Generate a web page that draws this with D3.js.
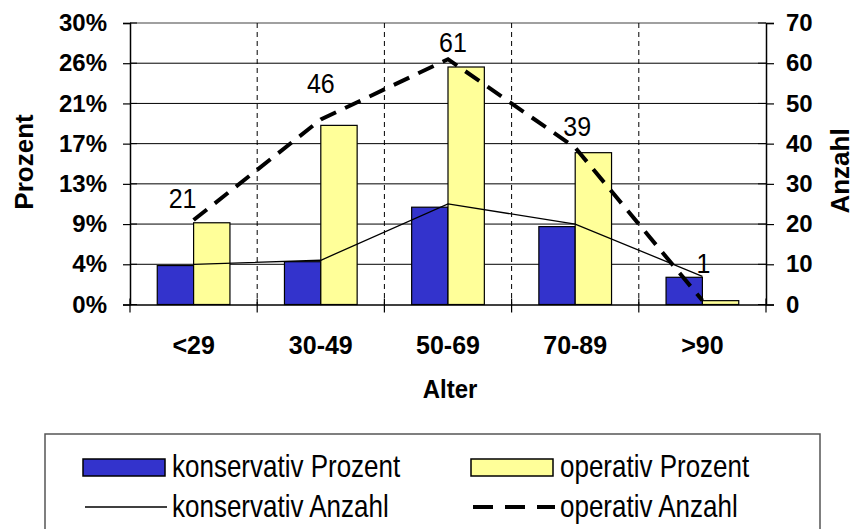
<!DOCTYPE html>
<html>
<head>
<meta charset="utf-8">
<script src="https://cdn.jsdelivr.net/npm/d3@7"></script>
<style>
  html, body { margin: 0; padding: 0; background: #fff; }
  svg { display: block; font-family: "Liberation Sans", Arial, sans-serif; }
</style>
</head>
<body>
<svg id="chart" width="856" height="529"></svg>
<script>
// Age groups and patient figures
const categories = ["<29", "30-49", "50-69", "70-89", ">90"];
const konservativAnzahl = [10, 11, 25, 20, 7];
const operativAnzahl = [21, 46, 61, 39, 1];
const konservativProzent = [4.15, 4.56, 10.37, 8.30, 2.90];
const operativProzent = [8.71, 19.09, 25.31, 16.18, 0.41];

// Axis ticks
const anzahlTicks = [0, 10, 20, 30, 40, 50, 60, 70];
const prozentTickLabels = ["0%", "4%", "9%", "13%", "17%", "21%", "26%", "30%"];

// Nudges for the operativ value labels (dx, dy relative to the point)
const labelNudge = [[-11, -12], [0, -27], [5, -7], [2, -12], [1, -27]];

const svg = d3.select("#chart");
const plot = { left: 130, right: 766, top: 23, bottom: 304.5 };

const x = d3.scaleBand().domain(categories).range([plot.left, plot.right]).paddingInner(0).paddingOuter(0);
const yPct = d3.scaleLinear().domain([0, 30]).range([plot.bottom, plot.top]);
const yCnt = d3.scaleLinear().domain([0, 70]).range([plot.bottom, plot.top]);

const bw = x.bandwidth();
const barW = bw / 3.5; // gap width 150%

// Horizontal gridlines
svg.append("g").selectAll("line").data(anzahlTicks.slice(1, -1)).join("line")
  .attr("x1", plot.left).attr("x2", plot.right)
  .attr("y1", d => yCnt(d)).attr("y2", d => yCnt(d))
  .attr("stroke", "#000").attr("stroke-width", 1);
// top border
svg.append("line").attr("x1", plot.left).attr("x2", plot.right)
  .attr("y1", plot.top).attr("y2", plot.top).attr("stroke", "#808080").attr("stroke-width", 1.5);

// Vertical dashed gridlines between age groups
svg.append("g").selectAll("line").data(categories.slice(1)).join("line")
  .attr("x1", d => x(d)).attr("x2", d => x(d))
  .attr("y1", plot.top).attr("y2", plot.bottom)
  .attr("stroke", "#000").attr("stroke-width", 1).attr("stroke-dasharray", "5,4");

// Bars
const groups = svg.append("g").selectAll("g").data(categories).join("g");
groups.append("rect")
  .attr("x", d => x(d) + bw / 2 - barW)
  .attr("y", (d, i) => yPct(konservativProzent[i]))
  .attr("width", barW)
  .attr("height", (d, i) => plot.bottom - yPct(konservativProzent[i]))
  .attr("fill", "#3333CC").attr("stroke", "#000").attr("stroke-width", 1.2);
groups.append("rect")
  .attr("x", d => x(d) + bw / 2)
  .attr("y", (d, i) => yPct(operativProzent[i]))
  .attr("width", barW)
  .attr("height", (d, i) => plot.bottom - yPct(operativProzent[i]))
  .attr("fill", "#FFFF99").attr("stroke", "#000").attr("stroke-width", 1.2);

// Axes
const leftAxis = d3.axisLeft(yCnt).tickValues(anzahlTicks).tickSize(7).tickFormat((d, i) => prozentTickLabels[i]);
const gl = svg.append("g").attr("transform", `translate(${plot.left},0)`).call(leftAxis);
gl.selectAll("text").attr("x", -23).attr("font-size", 24).attr("font-weight", "bold").attr("fill", "#000");

const rightAxis = d3.axisRight(yCnt).tickValues(anzahlTicks).tickSize(8).tickFormat(d3.format("d"));
const gr = svg.append("g").attr("transform", `translate(${plot.right},0)`).call(rightAxis);
gr.selectAll("text").attr("x", 20).attr("font-size", 24).attr("font-weight", "bold").attr("fill", "#000");

[gl, gr].forEach(g => {
  g.select(".domain").attr("stroke", "#000").attr("stroke-width", 1.5);
  g.selectAll(".tick line").attr("stroke", "#000").attr("stroke-width", 1.2);
  g.attr("font-family", null);
});
// inner half of tick marks
svg.append("g").selectAll("line").data(anzahlTicks).join("line")
  .attr("x1", plot.left).attr("x2", plot.left + 7)
  .attr("y1", d => yCnt(d)).attr("y2", d => yCnt(d)).attr("stroke", "#000");
svg.append("g").selectAll("line").data(anzahlTicks).join("line")
  .attr("x1", plot.right - 8).attr("x2", plot.right)
  .attr("y1", d => yCnt(d)).attr("y2", d => yCnt(d)).attr("stroke", "#000");

const bottomAxis = d3.axisBottom(x).tickSize(0).tickPadding(0);
const gb = svg.append("g").attr("transform", `translate(0,${plot.bottom})`).call(bottomAxis);
gb.attr("font-family", null);
gb.select(".domain").attr("stroke", "#000").attr("stroke-width", 1.5);
gb.selectAll("text").attr("y", 49).attr("dy", 0).attr("font-size", 25).attr("font-weight", "bold").attr("fill", "#000");
// boundary tick marks on the category axis
const bounds = categories.map(c => x(c)).concat([plot.right]);
svg.append("g").selectAll("line").data(bounds).join("line")
  .attr("x1", d => d).attr("x2", d => d)
  .attr("y1", plot.bottom - 6).attr("y2", plot.bottom + 8)
  .attr("stroke", "#000").attr("stroke-width", 1.2);

// Lines
const lineCnt = d3.line().x((d, i) => x(categories[i]) + bw / 2).y(d => yCnt(d));
svg.append("path").datum(konservativAnzahl).attr("d", lineCnt)
  .attr("fill", "none").attr("stroke", "#000").attr("stroke-width", 1.3);
svg.append("path").datum(operativAnzahl).attr("d", lineCnt)
  .attr("fill", "none").attr("stroke", "#000").attr("stroke-width", 4)
  .attr("stroke-dasharray", "17,10");

// Value labels for operativ Anzahl (slightly tall glyphs)
svg.append("g").selectAll("text").data(operativAnzahl).join("text")
  .attr("transform", (d, i) =>
    `translate(${x(categories[i]) + bw / 2 + labelNudge[i][0]},${yCnt(d) + labelNudge[i][1]}) scale(1,1.1)`)
  .attr("text-anchor", "middle").attr("font-size", 25).attr("fill", "#000")
  .text(d => d);

// Axis titles
svg.append("text").attr("transform", "translate(33,162) rotate(-90)")
  .attr("text-anchor", "middle").attr("font-size", 26).attr("font-weight", "bold").text("Prozent");
svg.append("text").attr("transform", "translate(849,171) rotate(-90)")
  .attr("text-anchor", "middle").attr("font-size", 26).attr("font-weight", "bold").text("Anzahl");
svg.append("text").attr("transform", "translate(450,398) scale(1,1.1)")
  .attr("text-anchor", "middle").attr("font-size", 24).attr("font-weight", "bold").text("Alter");

// Legend
const lg = svg.append("g");
lg.append("rect").attr("x", 45).attr("y", 434).attr("width", 775).attr("height", 102)
  .attr("fill", "#fff").attr("stroke", "#555").attr("stroke-width", 1.5);
const legendItems = [
  { label: "konservativ Prozent", type: "bar", color: "#3333CC", col: 0, row: 0 },
  { label: "operativ Prozent", type: "bar", color: "#FFFF99", col: 1, row: 0 },
  { label: "konservativ Anzahl", type: "line", dash: null, width: 1.3, col: 0, row: 1 },
  { label: "operativ Anzahl", type: "line", dash: "20,12", width: 4, col: 1, row: 1 }
];
const colX = [83, 471];
const rowY = [467, 507];
legendItems.forEach(it => {
  const x0 = colX[it.col], yc = rowY[it.row];
  if (it.type === "bar") {
    lg.append("rect").attr("x", x0).attr("y", yc - 8).attr("width", 82).attr("height", 17)
      .attr("fill", it.color).attr("stroke", "#000").attr("stroke-width", 1.5);
  } else {
    lg.append("line").attr("x1", x0 + 2).attr("x2", x0 + 84).attr("y1", yc).attr("y2", yc)
      .attr("stroke", "#000").attr("stroke-width", it.width).attr("stroke-dasharray", it.dash);
  }
  lg.append("text").attr("transform", `translate(${x0 + 89},${yc + 10}) scale(1,1.18)`)
    .attr("font-size", 26).attr("fill", "#000")
    .text(it.label);
});
</script>
</body>
</html>
